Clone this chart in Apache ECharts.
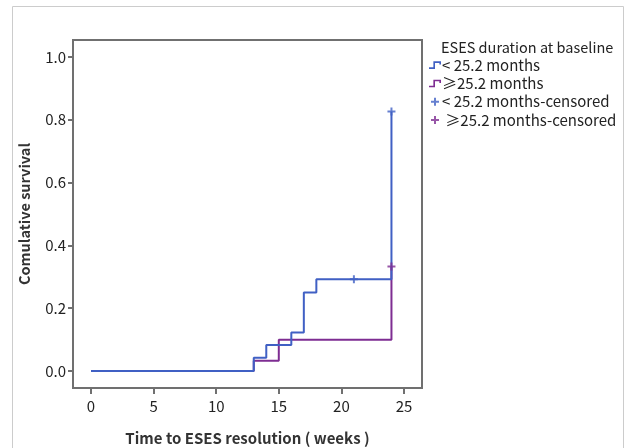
<!DOCTYPE html>
<html>
<head>
<meta charset="utf-8">
<script src="https://cdn.jsdelivr.net/npm/echarts@6.0.0/dist/echarts.min.js"></script>
<style>
  html, body { margin: 0; padding: 0; background: #fff; }
  #chart { width: 627px; height: 448px; }
</style>
</head>
<body>
<div id="chart"></div>
<script>
// data
const seriesNames = ['< 25.2 months', '≥25.2 months', '< 25.2 months-censored', ' ≥25.2 months-censored'];
const shortCurve = [[0, 0], [13, 0.042], [14, 0.083], [16, 0.123], [17, 0.25], [18, 0.292], [24, 0.826]];
const longCurve = [[0, 0], [13, 0.033], [15, 0.1], [24, 0.333]];
const shortCensored = [[21, 0.292], [24, 0.826]];
const longCensored = [[24, 0.333]];
const xTicks = [0, 5, 10, 15, 20, 25];
const yTicks = [0, 0.2, 0.4, 0.6, 0.8, 1.0];

const BLUE = '#4060c4';
const PURPLE = '#7e2d92';
const FONT = '"Noto Sans CJK SC", "Noto Sans", sans-serif';

const stepIcon = 'path://M0,11 L8,11 L8,0 L22,0 L22,6 L19,6 L19,3 L11,3 L11,14 L0,14 Z';
const plusIcon = 'path://M0,3 L3,3 L3,0 L5,0 L5,3 L8,3 L8,5 L5,5 L5,8 L3,8 L3,5 L0,5 Z';

const chart = echarts.init(document.getElementById('chart'));

chart.setOption({
  animation: false,
  textStyle: { fontFamily: FONT },
  graphic: [{
    type: 'rect',
    shape: { x: 12.5, y: 6.5, width: 611, height: 470 },
    style: { fill: 'none', stroke: '#cccccc', lineWidth: 1 },
    silent: true
  }],
  title: {
    text: 'ESES duration at baseline',
    left: 441,
    top: 40,
    padding: 0,
    textStyle: { fontFamily: FONT, fontSize: 14.5, fontWeight: 'normal', color: '#222' }
  },
  legend: {
    orient: 'vertical',
    left: 429,
    top: 56,
    padding: 0,
    itemGap: 0,
    itemWidth: 12,
    itemHeight: 8,
    textStyle: { fontFamily: FONT, fontSize: 15, color: '#222', lineHeight: 18.3, padding: [0, 0, 0, -4] },
    data: [
      { name: seriesNames[0], icon: stepIcon },
      { name: seriesNames[1], icon: stepIcon },
      { name: seriesNames[2], icon: plusIcon },
      { name: seriesNames[3], icon: plusIcon }
    ]
  },
  grid: {
    left: 73, right: 205, top: 40, bottom: 60,
    outerBoundsMode: 'none',
    show: true, borderColor: '#707070', borderWidth: 2
  },
  xAxis: {
    type: 'value',
    min: -1.44, max: 26.44,
    name: 'Time to ESES resolution ( weeks )',
    nameLocation: 'middle',
    nameGap: 43,
    nameTextStyle: { fontFamily: FONT, fontSize: 15, fontWeight: 'bold', color: '#333' },
    axisLine: { show: false, onZero: false },
    axisTick: { show: true, customValues: xTicks, length: 6, lineStyle: { color: '#707070', width: 2 } },
    axisLabel: { customValues: xTicks, margin: 11, fontSize: 15, color: '#222', fontFamily: FONT },
    splitLine: { show: false }
  },
  yAxis: {
    type: 'value',
    min: -0.054, max: 1.054,
    name: 'Comulative survival',
    nameLocation: 'middle',
    nameGap: 41,
    nameTextStyle: { fontFamily: FONT, fontSize: 14.5, fontWeight: 'bold', color: '#333' },
    axisLine: { show: false, onZero: false },
    axisTick: { show: true, customValues: yTicks, length: 5, lineStyle: { color: '#707070', width: 2 } },
    axisLabel: {
      customValues: yTicks, margin: 7, fontSize: 15, color: '#222', fontFamily: FONT,
      formatter: v => v.toFixed(1)
    },
    splitLine: { show: false }
  },
  series: [
    {
      name: seriesNames[1], type: 'line', step: 'end', data: longCurve,
      showSymbol: false, color: PURPLE, lineStyle: { color: PURPLE, width: 2 }, z: 2
    },
    {
      name: seriesNames[0], type: 'line', step: 'end', data: shortCurve,
      showSymbol: false, color: BLUE, lineStyle: { color: BLUE, width: 2 }, z: 3
    },
    {
      name: seriesNames[2], type: 'scatter', data: shortCensored,
      symbol: plusIcon, symbolSize: 8, itemStyle: { color: BLUE }, z: 4
    },
    {
      name: seriesNames[3], type: 'scatter', data: longCensored,
      symbol: plusIcon, symbolSize: 8, itemStyle: { color: PURPLE }, z: 4
    }
  ]
});
</script>
</body>
</html>
